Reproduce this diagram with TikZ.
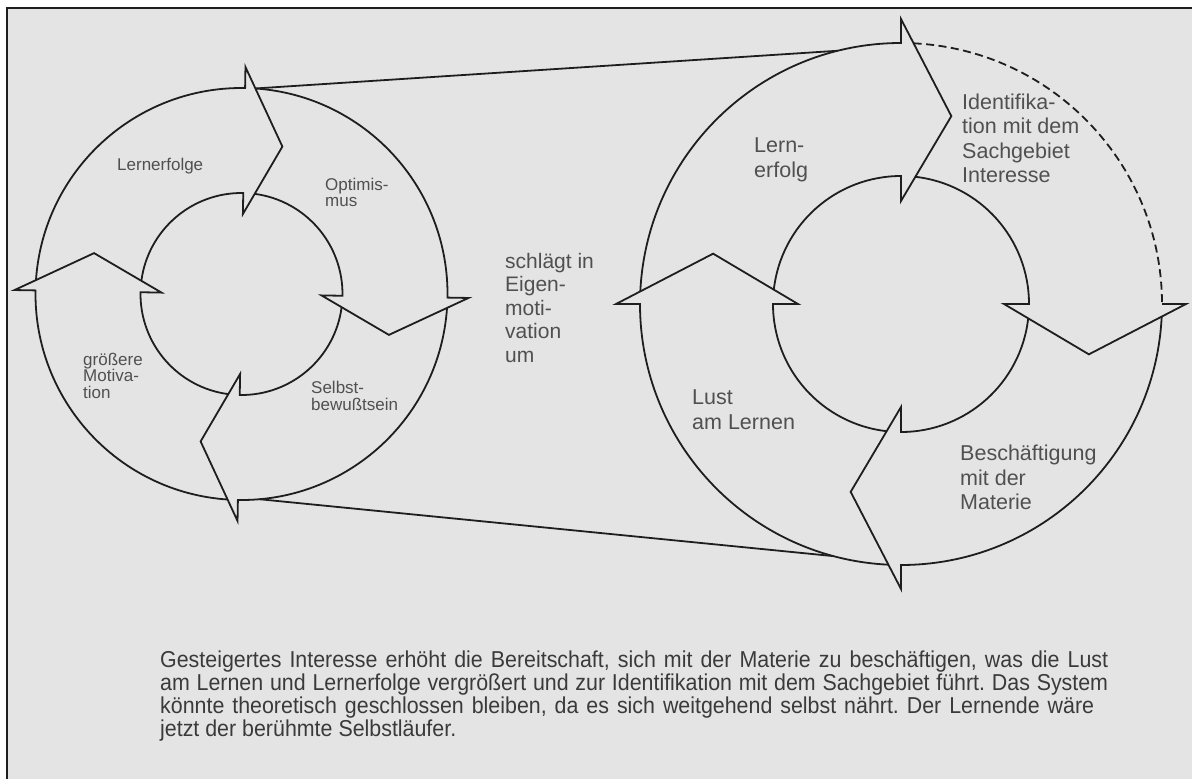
\documentclass[tikz,border=0pt]{standalone}
\usepackage{fontspec}
\setmainfont{Liberation Sans}
\newfontfamily\capfont[FakeStretch=0.93]{Liberation Sans}
\usetikzlibrary{calc}
\definecolor{bg}{HTML}{E4E4E4}
\definecolor{ink}{HTML}{1E1E1E}
\definecolor{txt}{HTML}{505050}
\definecolor{captxt}{HTML}{3A3A3A}
\frenchspacing
\begin{document}
\begin{tikzpicture}[x=1pt,y=1pt,
  ring/.style={draw=ink, line width=1.8pt, line join=miter},
  lbl/.style={text=txt, inner sep=0pt, anchor=base west},
  small/.style={lbl, font=\fontsize{17}{17}\selectfont},
  mid/.style={lbl, font=\fontsize{21}{21}\selectfont},
  big/.style={lbl, font=\fontsize{21.5}{21.5}\selectfont},
  captext/.style={inner sep=0pt, anchor=base west, text=captxt, font=\capfont\fontsize{23}{23}\selectfont}]
\useasboundingbox (0,0) rectangle (1192,-779);
\fill[white] (0,0) rectangle (1192,-779);
\fill[bg] (7,-8) rectangle (1192,-779);
\draw[ink, line width=2.2pt] (7,-779) -- (7,-8) -- (1192,-8);

% left ring
\coordinate (L) at (241.5,-294);
\foreach \h in {89,-1,-91,-181} {
  \draw[ring] ($(L)+(\h+87.13:206)$) arc[start angle=\h+87.13, end angle=\h, radius=206]
    -- ($(L)+(\h:227)$) -- ($(L)+(\h-14.5:153)$) -- ($(L)+(\h:80)$) -- ($(L)+(\h:101)$)
    arc[start angle=\h, end angle=\h+83.5, radius=101];
}

% right ring
\coordinate (R) at (901,-304);
\foreach \h in {90,-90,-180} {
  \draw[ring] ($(R)+(\h+87.23:261)$) arc[start angle=\h+87.23, end angle=\h, radius=261]
    -- ($(R)+(\h:285)$) -- ($(R)+(\h-15:194.5)$) -- ($(R)+(\h:103)$) -- ($(R)+(\h:128)$)
    arc[start angle=\h, end angle=\h+83.563, radius=128];
}
\draw[ring, dash pattern=on 8pt off 4.5pt] ($(R)+(87.23:261)$) arc[start angle=87.23, end angle=0, radius=261];
\draw[ring] ($(R)+(0:261)$) -- ($(R)+(0:285)$) -- ($(R)+(-15:194.5)$) -- ($(R)+(0:103)$) -- ($(R)+(0:128)$)
    arc[start angle=0, end angle=83.563, radius=128];

% connecting lines
\coordinate (a1) at ($(L)+(86.13:206)$);
\coordinate (b1) at ($(R)+(104:261)$);
\coordinate (a2) at ($(L)+(-85:206)$);
\coordinate (b2) at ($(R)+(-105:261)$);
\draw[ring] (a1) -- (b1);
\draw[ring] (a2) -- (b2);

% left labels
\node[small] (lA) at (117,-170) {Lernerfolge};
\node[small] (lB1) at (325,-190) {Optimis-};
\node[small] (lB2) at (325,-206) {mus};
\node[small] (lC1) at (83,-365) {größere};
\node[small] (lC2) at (83,-381.5) {Motiva-};
\node[small] (lC3) at (83,-398) {tion};
\node[small] (lD1) at (311,-393) {Selbst-};
\node[small] (lD2) at (311,-410) {bewußtsein};

% middle
\node[mid] (m1) at (505,-268) {schlägt in};
\node[mid] (m2) at (505,-291.5) {Eigen-};
\node[mid] (m3) at (505,-315) {moti-};
\node[mid] (m4) at (505,-338.5) {vation};
\node[mid] (m5) at (505,-362) {um};

% right labels
\node[big] (r1) at (754,-152) {Lern-};
\node[big] (r2) at (754,-177) {erfolg};
\node[big] (r3) at (962,-109) {Identifika-};
\node[big] (r4) at (962,-133.5) {tion mit dem};
\node[big] (r5) at (962,-158) {Sachgebiet};
\node[big] (r6) at (962,-182.5) {Interesse};
\node[big] (r7) at (692,-404) {Lust};
\node[big] (r8) at (692,-429) {am Lernen};
\node[big] (r9) at (960,-460) {Beschäftigung};
\node[big] (r10) at (960,-485) {mit der};
\node[big] (r11) at (960,-509) {Materie};

% caption
\node[captext] (c1) at (160,-667) {\makebox[948pt][s]{Gesteigertes Interesse erhöht die Bereitschaft, sich mit der Materie zu beschäftigen, was die Lust}};
\node[captext] (c2) at (160,-690) {\makebox[948pt][s]{am Lernen und Lernerfolge vergrößert und zur Identifikation mit dem Sachgebiet führt. Das System}};
\node[captext] (c3) at (160,-713) {\makebox[934pt][s]{könnte theoretisch geschlossen bleiben, da es sich weitgehend selbst nährt. Der Lernende wäre}};
\node[captext] (c4) at (160,-736) {jetzt der berühmte Selbstläufer.};
\end{tikzpicture}
\end{document}
